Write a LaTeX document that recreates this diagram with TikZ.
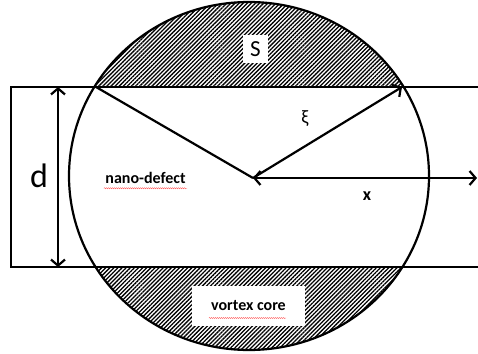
\documentclass[tikz,border=0pt]{standalone}
\usepackage{fontspec}
\setmainfont{Carlito}
\usetikzlibrary{arrows.meta,patterns.meta,decorations.pathmorphing}
\begin{document}
\begin{tikzpicture}[x=1pt,y=-1pt,
  thick line/.style={line width=2.2pt},
  barb/.style={thick line,-{Straight Barb[length=6pt,width=14pt,line width=2.2pt]}},
  barbs/.style={thick line,{Straight Barb[length=6pt,width=14pt,line width=2.2pt]}-{Straight Barb[length=6pt,width=14pt,line width=2.2pt]}},
  whitebox/.style={fill=white,inner sep=0pt},
  lbl/.style={font=\bfseries\fontsize{16}{18}\selectfont},
  squiggle/.style={red!60,line width=0.4pt,decorate,decoration={snake,amplitude=0.6pt,segment length=2pt}},
  hatch/.style={pattern={Lines[angle=45,distance=2.9pt,line width=1.3pt]}}
]
\useasboundingbox (0,0) rectangle (478,353);
% coordinates
\coordinate (C) at (249,176);
\coordinate (O) at (253,178);
\coordinate (TL) at (96,87);
\coordinate (TR) at (402,87);
\coordinate (R) at (477,178);
\coordinate (dT) at (58,87);
\coordinate (dB) at (58,267);
\coordinate (rTL) at (11,87);
\coordinate (rBL) at (11,267);
\coordinate (rTR) at (480,87);
\coordinate (rBR) at (480,267);
% hatching
\begin{scope}
  \clip (C) ellipse [x radius=180,y radius=174];
  \fill[hatch] (0,0) rectangle (478,87);
  \fill[hatch] (0,267) rectangle (478,353);
\end{scope}
% white boxes with text
\node[whitebox,minimum width=25pt,minimum height=28pt,font=\fontsize{23}{26}\selectfont] (S) at (255.5,49) {S};
\node[whitebox,minimum width=113pt,minimum height=40pt,lbl] (vc) at (248.5,306) {vortex core};
% ellipse and strip
\draw[thick line] (C) ellipse [x radius=180,y radius=174];
\draw[thick line] (rTR) -- (rTL) -- (rBL) -- (rBR);
% lines and arrows
\draw[thick line] (TL) -- (O);
\draw[barb] (O) -- (TR);
\draw[barbs] (O) -- (R);
\draw[barbs] (dT) -- (dB);
% labels
\node[font=\fontsize{34}{36}\selectfont] (d) at (39,176) {d};
\node[lbl] (nd) at (145.5,178) {nano-defect};
\node[font=\fontsize{19}{21}\selectfont] (xi) at (305,119) {ξ};
\node[font=\bfseries\fontsize{18}{20}\selectfont] (x) at (367,196) {x};
% spell-check underlines
\draw[squiggle] ([xshift=2pt,yshift=-1pt]nd.south west) -- ([xshift=-2pt,yshift=-1pt]nd.south east);
\draw[squiggle] (209,318) -- (286,318);
\end{tikzpicture}
\end{document}
